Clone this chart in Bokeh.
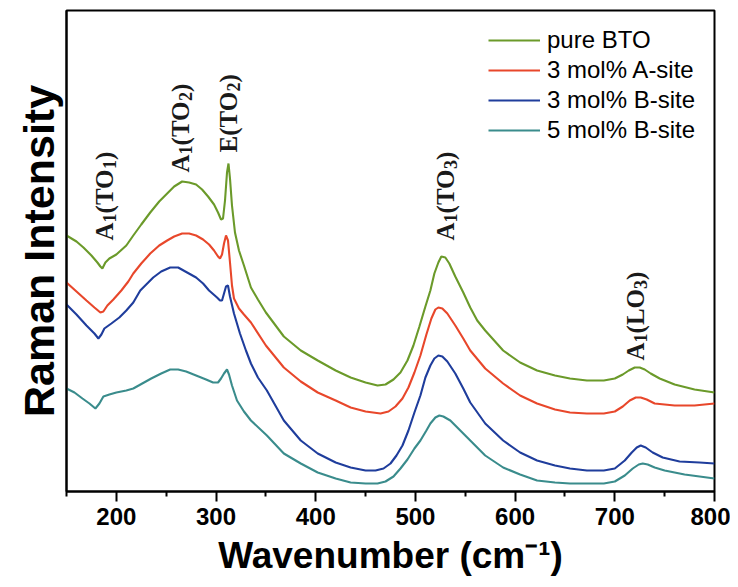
import math
from bokeh.plotting import figure
from bokeh.models import Range1d, FixedTicker, Label, Title
from bokeh.embed import file_html
from bokeh.resources import INLINE

# ---- data (Raman shift, cm^-1 ; intensity in arbitrary units) ----
wn_pure = [150, 160, 167, 175, 181, 184, 186, 189, 193, 200, 210, 217, 225, 234, 243, 251, 258, 266,
           273, 280, 286, 292, 298, 302, 305, 307, 309, 311, 312.5, 314, 316, 319, 323, 328, 335, 342,
           350, 368, 385, 402, 420, 435, 450, 462, 470, 478, 485, 492, 498, 504, 510, 515, 519, 523,
           526, 530, 534, 540, 548, 555, 562, 570, 588, 605, 622, 640, 655, 672, 689, 700, 708, 714,
           720, 725, 730, 736, 745, 760, 780, 800]
int_pure = [256, 250, 244, 236, 229, 225, 223, 229, 233, 237, 246, 256, 267, 279, 290, 298, 305, 310,
            309, 307, 302, 295, 287, 279, 272, 273, 291, 319, 328, 313, 286, 259, 241, 226, 204, 192,
            179, 155, 141, 131, 121, 114, 109, 106, 107, 112, 119, 131, 146, 165, 185, 201, 218, 229,
            235, 234, 228, 215, 199, 184, 171, 161, 141, 129, 121, 116, 113, 111, 111, 113, 117, 121,
            124, 124, 122, 118, 113, 107, 102, 99]

wn_a3 = [150, 160, 170, 178, 184, 187, 191, 197, 205, 212, 217, 225, 234, 243, 251, 258, 266, 273,
         280, 287, 293, 298, 302, 304, 306, 308, 310, 312, 314, 316, 318, 323, 328, 335, 350, 368,
         385, 402, 420, 435, 450, 465, 473, 480, 487, 493, 499, 505, 511, 516, 520, 523, 527, 532,
         540, 548, 555, 570, 588, 605, 622, 640, 655, 672, 689, 700, 708, 715, 721, 726, 732, 740,
         760, 780, 800]
int_a3 = [209, 200, 191, 184, 179, 180, 186, 192, 201, 210, 218, 228, 238, 246, 251, 255, 258, 258,
          256, 252, 247, 241, 235, 233, 237, 248, 256, 251, 229, 206, 193, 183, 177, 169, 146, 124,
          110, 99, 91, 84, 80, 78, 80, 85, 93, 104, 119, 136, 157, 173, 182, 184, 183, 178,
          166, 153, 141, 123, 108, 96, 88, 82, 79, 78, 78, 80, 85, 91, 94, 94, 92, 88,
          86, 86, 88]

wn_b3 = [150, 160, 170, 178, 182, 185, 188, 195, 203, 210, 217, 224, 237, 245, 254, 262, 271, 280,
         287, 293, 301, 304, 306, 308, 310, 312, 314, 318, 324, 330, 335, 342, 351, 368, 385, 402,
         420, 435, 450, 460, 468, 475, 481, 487, 493, 499, 505, 510, 515, 519, 523, 527, 532, 540,
         548, 555, 570, 588, 605, 622, 640, 655, 672, 689, 700, 710, 717, 722, 726, 731, 738, 748,
         765, 785, 800]
int_b3 = [187, 177, 166, 158, 153, 157, 163, 168, 174, 181, 189, 201, 214, 220, 224, 224, 219, 214,
          208, 201, 194, 191, 191, 198, 205, 206, 195, 178, 158, 141, 128, 114, 101, 71, 51, 38,
          29, 24, 21, 21, 23, 28, 36, 46, 61, 79, 96, 114, 126, 133, 136, 135, 130, 118,
          103, 89, 68, 51, 39, 31, 26, 23, 21, 21, 23, 31, 39, 44, 46, 44, 39, 34,
          30, 29, 28]

wn_b5 = [150, 158, 166, 173, 179, 183, 187, 193, 200, 210, 217, 226, 235, 245, 254, 262, 270, 280,
         290, 297, 302, 305, 308, 311, 313, 316, 321, 328, 335, 351, 368, 385, 402, 420, 435, 450,
         462, 470, 478, 485, 492, 499, 505, 511, 515, 520, 524, 528, 535, 545, 555, 570, 588, 605,
         622, 640, 655, 672, 689, 700, 710, 718, 724, 728, 733, 740, 750, 770, 800]
int_b5 = [103, 99, 93, 88, 83, 88, 95, 97, 99, 101, 103, 108, 113, 118, 122, 122, 120, 116,
          112, 109, 109, 113, 118, 122, 117, 106, 91, 80, 71, 56, 38, 28, 19, 13, 9, 8,
          8, 10, 15, 23, 32, 43, 51, 61, 68, 74, 76, 75, 71, 61, 51, 36, 24, 17,
          11, 9, 8, 8, 8, 10, 16, 23, 27, 28, 27, 24, 21, 17, 13]

series_names = ["pure BTO", "3 mol% A-site", "3 mol% B-site", "5 mol% B-site"]
series_colors = ["#6b9a2a", "#e8472b", "#1f3d9c", "#3a8c8c"]

x_ticks = [200, 300, 400, 500, 600, 700, 800]
x_minor = [150, 250, 350, 450, 550, 650, 750]

# peak labels: (text, is_subscript) pieces
peak_pieces = [
    [("A", False), ("1", True), ("(TO", False), ("1", True), (")", False)],
    [("A", False), ("1", True), ("(TO", False), ("2", True), (")", False)],
    [("E(TO", False), ("2", True), (")", False)],
    [("A", False), ("1", True), ("(TO", False), ("3", True), (")", False)],
    [("A", False), ("1", True), ("(LO", False), ("3", True), (")", False)],
]
peak_wn = [188, 264, 312.5, 530, 721]
peak_y = [251, 319, 339, 251, 131]

x_title = "Wavenumber (cm\u207b\u00b9)"
y_title = "Raman Intensity"

SANS = "Liberation Sans"
SERIF = "Liberation Serif"
# advance widths (em) for Times bold
ADV_SERIF = {"A": 0.722, "(": 0.333, ")": 0.333, "T": 0.667, "O": 0.778, "E": 0.667, "L": 0.667}


def text_w(s, fs):
    return sum(ADV_SERIF.get(c, 0.5) for c in s) * fs


p = figure(width=730, height=585, output_backend="svg", toolbar_location=None,
           x_range=Range1d(150, 800), y_range=Range1d(0, 481),
           min_border_left=66, min_border_right=16, min_border_top=10, min_border_bottom=94)

for wn, it, name, col in zip([wn_pure, wn_a3, wn_b3, wn_b5], [int_pure, int_a3, int_b3, int_b5],
                             series_names, series_colors):
    p.line(wn, it, line_color=col, line_width=2.1, legend_label=name)

p.grid.visible = False
p.background_fill_color = "white"
p.border_fill_color = "white"
p.outline_line_color = "black"
p.outline_line_width = 2

xa = p.xaxis[0]
xa.ticker = FixedTicker(ticks=x_ticks, minor_ticks=x_minor)
xa.axis_label = x_title
xa.axis_label_text_font = SANS
xa.axis_label_text_font_style = "bold"
xa.axis_label_text_font_size = "37px"
xa.axis_label_text_color = "black"
xa.axis_label_standoff = 7
xa.major_label_text_font = SANS
xa.major_label_text_font_style = "bold"
xa.major_label_text_font_size = "24px"
xa.major_label_text_color = "black"
xa.major_label_standoff = 6
xa.major_tick_out = 10
xa.major_tick_in = 0
xa.minor_tick_out = 5
xa.minor_tick_in = 0
xa.axis_line_width = 2
xa.major_tick_line_width = 2
xa.minor_tick_line_width = 2
xa.axis_line_color = "black"
xa.major_tick_line_color = "black"
xa.minor_tick_line_color = "black"

ya = p.yaxis[0]
ya.ticker = FixedTicker(ticks=[])
ya.axis_line_width = 2
ya.axis_line_color = "black"
ya.major_tick_line_color = None
ya.minor_tick_line_color = None

p.add_layout(Title(text=y_title, align="center", offset=-14, standoff=8,
                   text_font=SANS, text_font_style="bold", text_font_size="43px",
                   text_color="black"), "left")

MAIN = 25
SUB = 18
for pieces, xw, yv in zip(peak_pieces, peak_wn, peak_y):
    adv = 0.0
    for txt, is_sub in pieces:
        fs = SUB if is_sub else MAIN
        p.add_layout(Label(x=xw, y=yv, text=txt, angle=math.pi / 2, angle_units="rad",
                           x_offset=(5 if is_sub else 0), y_offset=adv,
                           text_align="left", text_baseline="alphabetic", text_font=SERIF,
                           text_font_style="bold", text_font_size=f"{fs}px",
                           text_color="#1a1a1a"))
        adv += (0.5 * fs * len(txt)) if is_sub else text_w(txt, fs)

lg = p.legend[0]
lg.location = (422, 347)
lg.border_line_color = None
lg.background_fill_alpha = 0
lg.padding = 0
lg.margin = 0
lg.spacing = 2
lg.label_height = 28
lg.glyph_height = 28
lg.glyph_width = 52
lg.label_standoff = 7
lg.label_text_font = SANS
lg.label_text_font_size = "24px"
lg.label_text_color = "black"

open("out.html", "w").write(file_html(p, INLINE))
